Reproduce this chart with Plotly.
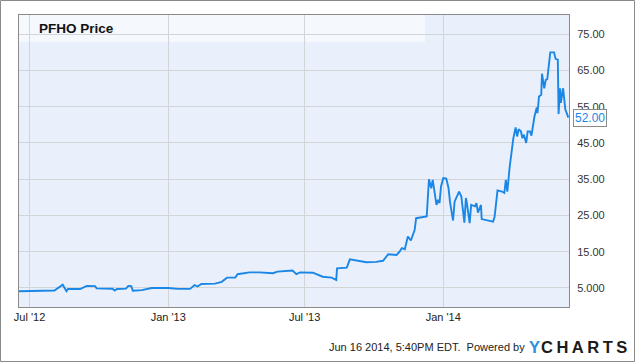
import plotly.graph_objects as go

# ---- data ----
dates = [
    "2012-06-17", "2012-08-01", "2012-08-03", "2012-08-14", "2012-08-17", "2012-08-19",
    "2012-08-21", "2012-09-06", "2012-09-15", "2012-09-26", "2012-09-28", "2012-10-19",
    "2012-10-22", "2012-10-25", "2012-11-06", "2012-11-09", "2012-11-13", "2012-11-15",
    "2012-11-27", "2012-12-10", "2013-01-01", "2013-01-14", "2013-01-30", "2013-02-05",
    "2013-02-09", "2013-02-14", "2013-03-04", "2013-03-13", "2013-03-20", "2013-03-31",
    "2013-04-03", "2013-04-12", "2013-04-19", "2013-05-02", "2013-05-20", "2013-05-26",
    "2013-06-15", "2013-06-20", "2013-06-25", "2013-07-12", "2013-07-25", "2013-08-06",
    "2013-08-12", "2013-08-13", "2013-08-26", "2013-08-30", "2013-09-08", "2013-09-21",
    "2013-10-04", "2013-10-13", "2013-10-20", "2013-10-31", "2013-11-04", "2013-11-07",
    "2013-11-11", "2013-11-15", "2013-11-19", "2013-11-24", "2013-11-26", "2013-12-10",
    "2013-12-13", "2013-12-16", "2013-12-18", "2013-12-21", "2013-12-23", "2013-12-25",
    "2013-12-27", "2013-12-29", "2014-01-01", "2014-01-05", "2014-01-08", "2014-01-10",
    "2014-01-14", "2014-01-16", "2014-01-22", "2014-01-25", "2014-01-27", "2014-01-29",
    "2014-01-31", "2014-02-01", "2014-02-05", "2014-02-07", "2014-02-12", "2014-02-14",
    "2014-02-16", "2014-02-20", "2014-02-21", "2014-03-08", "2014-03-10", "2014-03-14",
    "2014-03-20", "2014-03-23", "2014-03-25", "2014-03-27", "2014-03-30", "2014-04-02",
    "2014-04-04", "2014-04-07", "2014-04-09", "2014-04-11", "2014-04-14", "2014-04-16",
    "2014-04-18", "2014-04-21", "2014-04-23", "2014-04-26", "2014-04-28", "2014-05-02",
    "2014-05-05", "2014-05-06", "2014-05-08", "2014-05-11", "2014-05-12", "2014-05-15",
    "2014-05-17", "2014-05-19", "2014-05-21", "2014-05-23", "2014-05-28", "2014-05-30",
    "2014-06-02", "2014-06-03", "2014-06-05", "2014-06-06", "2014-06-09", "2014-06-11",
    "2014-06-12", "2014-06-16",
]
prices = [
    4.1, 4.1, 4.3, 5.9, 4.6, 4.1,
    4.7, 4.7, 5.55, 5.5, 4.9, 4.8,
    4.3, 4.7, 4.8, 5.55, 5.5, 4.25,
    4.4, 5.0, 5.0, 4.75, 4.75, 5.8,
    5.4, 6.1, 6.2, 6.7, 7.85, 7.85,
    8.8, 9.06, 9.3, 9.3, 9.06, 9.5,
    9.8, 8.8, 9.3, 9.2, 8.1, 7.85,
    7.2, 10.4, 10.6, 12.9, 12.5, 12.1,
    12.2, 12.5, 14.3, 14.1, 15.0, 16.0,
    15.7, 19.2, 18.1, 21.0, 24.25, 24.7,
    35.0, 32.5, 34.8, 31.2, 27.9, 29.3,
    28.4, 33.0, 35.3, 35.2, 32.5, 28.6,
    23.6, 28.8, 31.6, 30.2, 27.0, 23.0,
    29.8, 28.8, 22.9, 27.9, 27.5, 28.4,
    25.8, 27.9, 24.0, 23.3, 24.5, 31.9,
    31.6, 31.2, 34.8, 31.6, 38.2, 43.1,
    46.3, 49.3, 46.8, 48.8, 48.2, 46.3,
    47.3, 45.0, 48.2, 48.2, 47.0, 52.3,
    54.8, 53.2, 57.8, 58.3, 64.1, 60.1,
    62.4, 62.6, 66.1, 70.0, 70.0, 68.2,
    68.0, 53.0, 60.1, 56.1, 60.1, 54.8,
    54.2, 52.0,
]

x_tick_vals = ["2012-07-01", "2013-01-01", "2013-07-01", "2014-01-01"]
x_tick_text = ["Jul '12", "Jan '13", "Jul '13", "Jan '14"]
y_tick_vals = [5, 15, 25, 35, 45, 55, 65, 75]
y_tick_text = ["5.000", "15.00", "25.00", "35.00", "45.00", "55.00", "65.00", "75.00"]

title_text = "PFHO Price"
footer_text = "Jun 16 2014, 5:40PM EDT.  Powered by"

# ---- layout constants ----
W, H = 635, 362
ML, MR, MT, MB = 19, 66, 15, 55
PW, PH = W - ML - MR, H - MT - MB
LINE_COLOR = "#1a87e6"


def px(xp):
    return (xp - ML) / PW


def py(yp):
    return (H - MB - yp) / PH


fig = go.Figure()
fig.add_trace(go.Scatter(
    x=dates, y=prices, mode="lines",
    line=dict(color=LINE_COLOR, width=1.9),
    hoverinfo="skip", showlegend=False,
))

font_main = "Arial, 'Liberation Sans', sans-serif"

fig.update_layout(
    width=W, height=H,
    margin=dict(l=ML, r=MR, t=MT, b=MB),
    paper_bgcolor="white",
    plot_bgcolor="#e9f0fb",
    font=dict(family=font_main, size=11, color="#333333"),
    showlegend=False,
    xaxis=dict(
        range=["2012-06-17", "2014-06-16 20:00"],
        tickvals=x_tick_vals, ticktext=x_tick_text,
        showgrid=True, gridcolor="#d2d4d8", gridwidth=1,
        showline=True, linecolor="#8a8a8a", linewidth=1, mirror=True,
        ticks="", zeroline=False,
        tickfont=dict(size=11, color="#222222"),
    ),
    yaxis=dict(
        range=[-0.25, 80.3], side="right",
        tickvals=y_tick_vals, ticktext=y_tick_text,
        showgrid=True, gridcolor="#d2d4d8", gridwidth=1,
        showline=True, linecolor="#8a8a8a", linewidth=1, mirror=True,
        ticks="outside", ticklen=0, ticklabelstandoff=5, zeroline=False,
        tickfont=dict(size=11, color="#333333"),
    ),
)

# title panel
fig.add_shape(type="rect", xref="paper", yref="paper",
              x0=0, x1=px(425), y0=py(42), y1=1,
              fillcolor="rgba(255,255,255,0.55)", line=dict(width=0), layer="between")
fig.add_annotation(xref="paper", yref="paper", x=px(37), y=py(29),
                   xanchor="left", yanchor="middle", showarrow=False,
                   text="<b>" + title_text + "</b>",
                   font=dict(size=13.5, color="#111111", family=font_main))

# last value callout
last_x, last_y = dates[-1], prices[-1]
fig.add_annotation(x=last_x, y=last_y, xref="x", yref="y",
                   xanchor="left", yanchor="middle", xshift=5, showarrow=False,
                   text=f"{last_y:.2f}", font=dict(size=12, color=LINE_COLOR),
                   bgcolor="white", bordercolor="#8a8a8a", borderwidth=1, borderpad=1)
fig.add_shape(type="path", xref="x", yref="y",
              xsizemode="pixel", ysizemode="pixel",
              xanchor=last_x, yanchor=last_y,
              path="M 6,-5 L 1,0 L 6,5",
              line=dict(color="#8a8a8a", width=1), fillcolor="white")

# footer
fig.add_annotation(xref="paper", yref="paper", x=px(527), y=py(347),
                   xanchor="right", yanchor="middle", showarrow=False,
                   text=footer_text, font=dict(size=11, color="#222222"))
fig.add_annotation(xref="paper", yref="paper", x=px(527), y=py(347),
                   xanchor="left", yanchor="middle", showarrow=False,
                   text="<b><span style='color:#2a8fe0;letter-spacing:1px'>Y</span>"
                        "<span style='color:#1b1b1b;letter-spacing:3.5px'>CHARTS</span></b>",
                   font=dict(size=16.5, family=font_main))

# outer image border
fig.add_shape(type="rect", xref="paper", yref="paper",
              x0=px(0.5), x1=px(W - 0.5), y0=py(H - 0.5), y1=py(0.5),
              line=dict(color="#8a8a8a", width=1), fillcolor="rgba(0,0,0,0)", layer="above")

fig.write_html("out.html")
